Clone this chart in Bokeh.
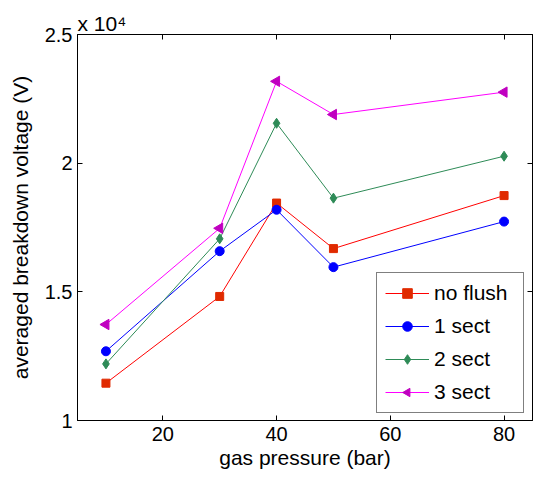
import math
from bokeh.plotting import figure
from bokeh.models import LinearAxis, FixedTicker, Range1d, Legend, Title
from bokeh.embed import file_html
from bokeh.resources import INLINE

try:
    from bokeh.models import Ngon
    HAVE_NGON = True
except ImportError:
    HAVE_NGON = False

# data
pressure = [10, 30, 40, 50, 80]
no_flush = [11450, 14820, 18450, 16680, 18740]
sect1 = [12690, 16580, 18190, 15960, 17730]
sect2 = [12200, 17060, 21550, 18640, 20270]
sect3 = [13730, 17470, 23180, 21890, 22760]
series_names = ["no flush", "1 sect", "2 sect", "3 sect"]
x_ticks = [20, 40, 60, 80]
y_ticks = [10000, 15000, 20000, 25000]
y_tick_labels = ["1", "1.5", "2", "2.5"]
scale_text = "x 10\u2074"

FONT = "Liberation Sans"

p = figure(width=542, height=477, output_backend="svg", toolbar_location=None,
           x_range=Range1d(5, 85), y_range=Range1d(10000, 25000),
           min_border_left=77, min_border_right=10, min_border_top=34, min_border_bottom=57)
p.background_fill_color = "white"
p.border_fill_color = "white"
p.outline_line_color = "black"
p.outline_line_width = 1
p.xgrid.visible = False
p.ygrid.visible = False

p.title.text = scale_text
p.title.align = "left"
p.title.offset = 0
p.title.standoff = 0
p.title.text_font = FONT
p.title.text_font_size = "21px"
p.title.text_font_style = "normal"
p.title.text_color = "black"

def style_axis(ax, ticks, show_labels=True):
    ax.ticker = FixedTicker(ticks=ticks)
    ax.major_tick_in = 5
    ax.major_tick_out = 0
    ax.minor_tick_line_color = None
    ax.axis_line_color = "black"
    ax.major_tick_line_color = "black"
    ax.major_label_text_font = FONT
    ax.major_label_text_color = "black"
    ax.major_label_text_font_size = "20px"
    if not show_labels:
        ax.major_label_overrides = {t: "" for t in ticks}
        ax.major_label_standoff = 0

xa = p.xaxis[0]
style_axis(xa, x_ticks)
xa.major_label_standoff = 6
xa.axis_label = "gas pressure (bar)"
xa.axis_label_text_font = FONT
xa.axis_label_text_font_size = "21px"
xa.axis_label_text_font_style = "normal"
xa.axis_label_text_color = "black"
xa.axis_label_standoff = 2

ya = p.yaxis[0]
style_axis(ya, y_ticks)
ya.major_label_overrides = {t: l for t, l in zip(y_ticks, y_tick_labels)}
ya.major_label_standoff = 5
ya.axis_label = "averaged breakdown voltage (V)"
ya.axis_label_text_font = FONT
ya.axis_label_text_font_size = "21px"
ya.axis_label_text_font_style = "normal"
ya.axis_label_text_color = "black"
ya.axis_label_standoff = 10

top = LinearAxis()
style_axis(top, x_ticks, show_labels=False)
p.add_layout(top, "above")
right = LinearAxis()
style_axis(right, y_ticks, show_labels=False)
p.add_layout(right, "right")

styles = [
    dict(line="#ff0000", fill="#e02a00", marker="square", size=8),
    dict(line="#0000ff", fill="#0000ff", marker="circle", size=9),
    dict(line="#2e8b57", fill="#2e8b57", marker="diamond", size=10),
    dict(line="#ff00ff", fill="#c000c0", marker="triangle", size=10),
]
series = [no_flush, sect1, sect2, sect3]

items = []
for name, vals, st in zip(series_names, series, styles):
    r1 = p.line(pressure, vals, line_color=st["line"], line_width=1)
    if st["marker"] == "triangle" and HAVE_NGON:
        r2 = p.ngon(pressure, vals, radius=6, radius_units="screen", n=3, angle=math.pi / 2,
                    fill_color=st["fill"], line_color=st["fill"])
    else:
        r2 = p.scatter(pressure, vals, marker=st["marker"], size=st["size"],
                       angle=(math.pi / 2 if st["marker"] == "triangle" else 0.0),
                       fill_color=st["fill"], line_color=st["fill"])
    items.append((name, [r1, r2]))

legend = Legend(items=items, location=(299, 7))
legend.label_text_font = FONT
legend.label_text_font_size = "21px"
legend.label_text_color = "black"
legend.glyph_width = 44
legend.glyph_height = 24
legend.label_height = 24
legend.label_width = 81
legend.label_standoff = 5
legend.padding = 8
legend.margin = 0
legend.spacing = 9
legend.border_line_color = "black"
legend.border_line_width = 1
legend.background_fill_color = "white"
legend.background_fill_alpha = 1
p.add_layout(legend, "center")

open("out.html", "w").write(file_html(p, INLINE))
